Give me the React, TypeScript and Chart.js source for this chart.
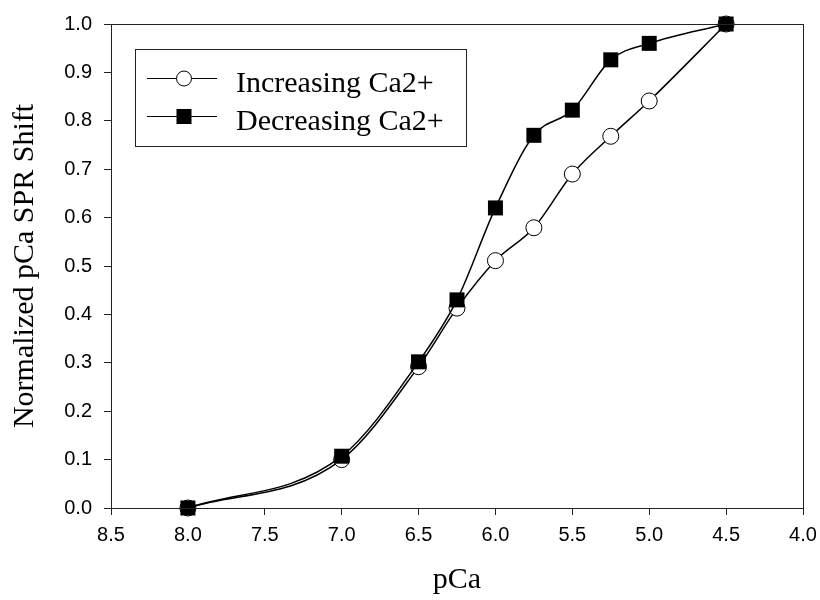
import React, { useEffect, useRef } from "react";
import { Chart, registerables } from "chart.js";

Chart.register(...registerables);

const pCaValues = [8.0, 7.0, 6.5, 6.25, 6.0, 5.75, 5.5, 5.25, 5.0, 4.5];
const increasingCa = [0.0, 0.1, 0.292, 0.413, 0.511, 0.579, 0.69, 0.768, 0.841, 1.0];
const decreasingCa = [0.0, 0.107, 0.302, 0.43, 0.62, 0.77, 0.822, 0.926, 0.96, 1.0];
const seriesLabels = ["Increasing Ca2+", "Decreasing Ca2+"];
const xTitle = "pCa";
const yTitle = "Normalized pCa SPR Shift";

const AXIS_COLOR = "#222";
const SERIF = "'Liberation Serif', 'Times New Roman', serif";
const SANS = "'Liberation Sans', Arial, sans-serif";

const framePlugin = {
  id: "frame",
  afterDatasetsDraw(chart: any) {
    const { ctx, chartArea } = chart;
    ctx.save();
    ctx.strokeStyle = AXIS_COLOR;
    ctx.lineWidth = 1;
    ctx.strokeRect(
      Math.round(chartArea.left) + 0.5,
      Math.round(chartArea.top) + 0.5,
      Math.round(chartArea.right - chartArea.left),
      Math.round(chartArea.bottom - chartArea.top)
    );
    ctx.restore();
  },
};

const legendPlugin = {
  id: "boxLegend",
  afterDraw(chart: any) {
    const { ctx } = chart;
    const bx = 135, by = 49, bw = 331, bh = 97;
    ctx.save();
    ctx.fillStyle = "#fff";
    ctx.fillRect(bx, by, bw, bh);
    ctx.strokeStyle = AXIS_COLOR;
    ctx.lineWidth = 1;
    ctx.strokeRect(bx + 0.5, by + 0.5, bw, bh);
    const rows = [78.5, 116.5];
    rows.forEach((ry, i) => {
      ctx.strokeStyle = "#000";
      ctx.lineWidth = 1.2;
      ctx.beginPath();
      ctx.moveTo(147, ry);
      ctx.lineTo(217, ry);
      ctx.stroke();
      if (i === 0) {
        ctx.beginPath();
        ctx.arc(184, ry, 7.5, 0, Math.PI * 2);
        ctx.fillStyle = "#fff";
        ctx.fill();
        ctx.lineWidth = 1;
        ctx.stroke();
      } else {
        ctx.fillStyle = "#000";
        ctx.fillRect(184 - 7.5, ry - 7.5, 15, 15);
      }
      ctx.fillStyle = "#000";
      ctx.font = `30px ${SERIF}`;
      ctx.textBaseline = "alphabetic";
      ctx.textAlign = "left";
      ctx.fillText(seriesLabels[i], 236, ry + 13);
    });
    ctx.restore();
  },
};

export default function App() {
  const canvasRef = useRef<HTMLCanvasElement | null>(null);

  useEffect(() => {
    if (!canvasRef.current) return;
    const chart = new Chart(canvasRef.current, {
      type: "line",
      data: {
        datasets: [
          {
            label: seriesLabels[0],
            data: pCaValues.map((x, i) => ({ x, y: increasingCa[i] })),
            borderColor: "#000",
            borderWidth: 1.5,
            backgroundColor: "#fff",
            pointStyle: "circle",
            pointRadius: 8,
            pointBorderWidth: 1,
            pointBorderColor: "#000",
            pointBackgroundColor: "#fff",
            cubicInterpolationMode: "monotone",
            clip: false,
            order: 1,
          },
          {
            label: seriesLabels[1],
            data: pCaValues.map((x, i) => ({ x, y: decreasingCa[i] })),
            borderColor: "#000",
            borderWidth: 1.5,
            backgroundColor: "#000",
            pointStyle: "rect",
            pointRadius: 10.6,
            pointBorderWidth: 0,
            pointBackgroundColor: "#000",
            cubicInterpolationMode: "monotone",
            clip: false,
            order: 0,
          },
        ],
      },
      options: {
        animation: false,
        responsive: false,
        devicePixelRatio: 1,
        layout: { padding: { top: 24, right: 17, left: 0, bottom: 0 } },
        plugins: {
          legend: { display: false },
          tooltip: { enabled: false },
        },
        scales: {
          x: {
            type: "linear",
            min: 4,
            max: 8.5,
            reverse: true,
            border: { display: true, color: AXIS_COLOR, width: 1 },
            grid: { drawOnChartArea: false, drawTicks: true, tickLength: 7, color: AXIS_COLOR },
            ticks: {
              stepSize: 0.5,
              autoSkip: false,
              maxRotation: 0,
              padding: 8.5,
              color: "#000",
              font: { family: SANS, size: 20 },
              callback: (v: any) => Number(v).toFixed(1),
            },
            title: {
              display: true,
              text: xTitle,
              color: "#000",
              font: { family: SERIF, size: 30 },
              padding: { top: 0, bottom: 2 },
            },
            afterFit: (s: any) => {
              s.height = 92;
              s.paddingLeft = 0;
              s.paddingRight = 0;
            },
          },
          y: {
            type: "linear",
            min: 0,
            max: 1,
            border: { display: true, color: AXIS_COLOR, width: 1 },
            grid: { drawOnChartArea: false, drawTicks: true, tickLength: 7, color: AXIS_COLOR },
            ticks: {
              stepSize: 0.1,
              padding: 12,
              color: "#000",
              font: { family: SANS, size: 20 },
              callback: (v: any) => Number(v).toFixed(1),
            },
            title: {
              display: true,
              text: yTitle,
              color: "#000",
              font: { family: SERIF, size: 30 },
              padding: { top: 7.5, bottom: 0 },
            },
            afterFit: (s: any) => {
              s.width = 111;
              s.paddingTop = 0;
              s.paddingBottom = 0;
            },
          },
        },
      },
      plugins: [framePlugin, legendPlugin],
    } as any);
    return () => chart.destroy();
  }, []);

  return (
    <div style={{ position: "absolute", left: 0, top: 0, width: 820, height: 600, background: "#fff" }}>
      <canvas ref={canvasRef} width={820} height={600} />
    </div>
  );
}
